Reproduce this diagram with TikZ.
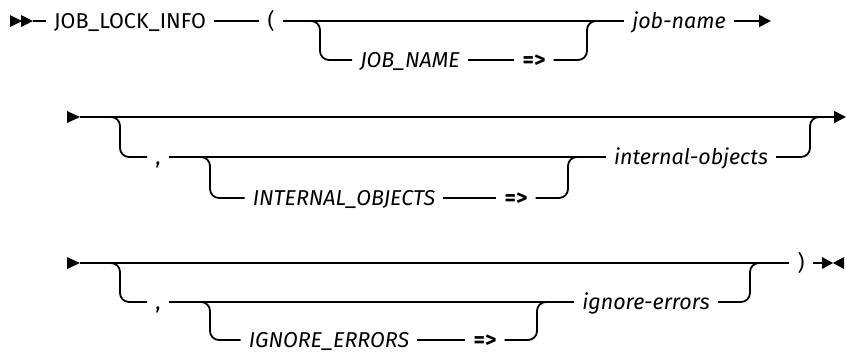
\documentclass[tikz,border=0pt]{standalone}
\usepackage{fontspec}
\setmainfont{Fira Sans}
\usetikzlibrary{arrows.meta}

\tikzset{
  rail/.style={line width=1.8pt},
  branch/.style={rail, rounded corners=9pt},
  kw/.style={inner xsep=8pt, inner ysep=0pt, text height=14.6pt, text depth=0pt,
    font=\fontsize{21.5}{26}\selectfont},
  opt/.style={kw, font=\fontsize{21.5}{26}\selectfont\itshape},
  assign/.style={kw, font=\fontsize{22}{26}\selectfont\bfseries},
  tip/.style={-{Triangle[length=12pt,width=12pt]}},
}

\begin{document}
\begin{tikzpicture}[x=1pt, y=-1pt, line join=round]
  \useasboundingbox (0,0) rectangle (846,354);

  % first row
  \fill (10,15) -- (22,21) -- (10,27) -- cycle;
  \fill (21,15) -- (33,21) -- (21,27) -- cycle;
  \coordinate (s1) at (33,21);
  \coordinate (e1) at (771,21);
  \coordinate (b1) at (320,21);
  \coordinate (b2) at (587,21);
  \node[kw] (fn) at (130,21) {JOB\_LOCK\_INFO};
  \node[kw] (lp) at (271,21) {(};
  \node[opt] (jobkw) at (410,60) {JOB\_NAME};
  \node[assign] (as1) at (534,60) {=>};
  \node[opt] (job) at (679,21) {job-name};
  \draw[rail] (s1) -- (fn);
  \draw[rail] (fn) -- (lp);
  \draw[rail] (lp) -- (job);
  \draw[rail,tip] (job) -- (e1);
  \draw[branch] (b1) ++(-10,0) -- (b1) |- (jobkw);
  \draw[rail] (jobkw) -- (as1);
  \draw[branch] (as1) -| (b2) -- ++(10,0);

  % second row
  \fill (67,111) -- (80,117) -- (67,123) -- cycle;
  \coordinate (s2) at (80,117);
  \coordinate (e2) at (846,117);
  \coordinate (b3) at (120,117);
  \coordinate (b4) at (210,157);
  \coordinate (b5) at (568,157);
  \coordinate (b6) at (810,117);
  \node[kw] (cm1) at (158,157) {,};
  \node[opt] (iokw) at (344,198) {INTERNAL\_OBJECTS};
  \node[assign] (as2) at (516,198) {=>};
  \node[opt] (io) at (691,157) {internal-objects};
  \draw[rail,tip] (s2) -- (e2);
  \draw[branch] (b3) ++(-10,0) -- (b3) |- (cm1);
  \draw[rail] (cm1) -- (io);
  \draw[branch] (b4) ++(-10,0) -- (b4) |- (iokw);
  \draw[rail] (iokw) -- (as2);
  \draw[branch] (as2) -| (b5) -- ++(10,0);
  \draw[branch] (io) -| (b6) -- ++(10,0);

  % third row
  \fill (67,257) -- (80,263) -- (67,269) -- cycle;
  \coordinate (s3) at (80,263);
  \coordinate (e3) at (822,263);
  \coordinate (b7) at (120,263);
  \coordinate (b8) at (210,302);
  \coordinate (b9) at (537,302);
  \coordinate (b10) at (750,263);
  \node[kw] (cm2) at (158,302) {,};
  \node[opt] (iekw) at (329,340) {IGNORE\_ERRORS};
  \node[assign] (as3) at (485,340) {=>};
  \node[opt] (ie) at (646,302) {ignore-errors};
  \node[kw] (rp) at (801,263) {)};
  \draw[rail] (s3) -- (rp);
  \draw[rail] (rp) -- (e3);
  \fill (822,257) -- (833,263) -- (822,269) -- cycle;
  \fill (844,257) -- (833,263) -- (844,269) -- cycle;
  \draw[branch] (b7) ++(-10,0) -- (b7) |- (cm2);
  \draw[rail] (cm2) -- (ie);
  \draw[branch] (b8) ++(-10,0) -- (b8) |- (iekw);
  \draw[rail] (iekw) -- (as3);
  \draw[branch] (as3) -| (b9) -- ++(10,0);
  \draw[branch] (ie) -| (b10) -- ++(10,0);
\end{tikzpicture}
\end{document}
